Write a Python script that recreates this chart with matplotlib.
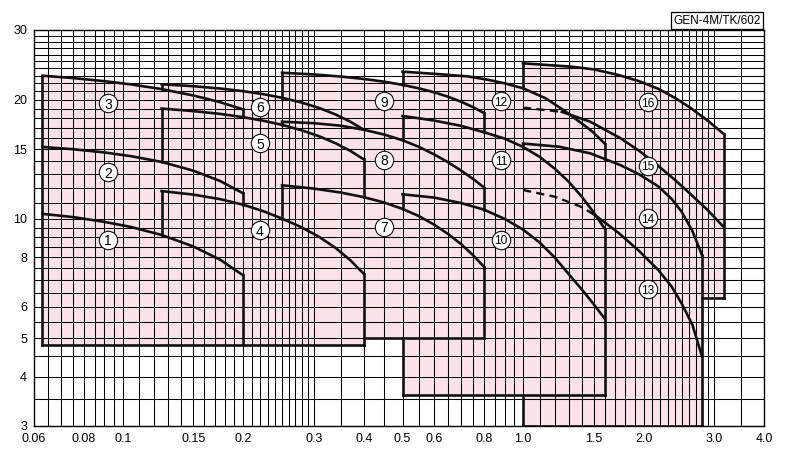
"""Pump selection chart: Q-H ranges of the GEN-4M series on log-log paper."""
import matplotlib
matplotlib.use("Agg")
import matplotlib.pyplot as plt
import numpy as np

plt.rcParams["font.family"] = ["Liberation Sans", "DejaVu Sans"]

X_TICKS = [0.06, 0.08, 0.1, 0.15, 0.2, 0.3, 0.4, 0.5, 0.6, 0.8, 1.0, 1.5, 2.0, 3.0, 4.0]
X_TICK_LABELS = ["0.06", "0.08", "0.1", "0.15", "0.2", "0.3", "0.4", "0.5", "0.6",
                 "0.8", "1.0", "1.5", "2.0", "3.0", "4.0"]
Y_TICKS = [3, 4, 5, 6, 8, 10, 15, 20, 30]

# chart paper rulings
X_GRID = np.concatenate([np.arange(0.065, 0.0999, 0.005), np.arange(0.1, 0.2999, 0.01),
                         np.arange(0.3, 0.999, 0.05), np.arange(1.0, 2.999, 0.1), [3.0, 3.5]])
Y_GRID = np.concatenate([np.arange(3.5, 9.99, 0.5), np.arange(10, 29.9, 1.0)])

# group A (pumps 1-3)
QA = [0.063, 0.075, 0.09, 0.105, 0.125, 0.15, 0.175, 0.2]
C1_Y = [10.3, 10.11, 9.83, 9.54, 9.11, 8.52, 7.89, 7.2]
C2_Y = [15.2, 15.0, 14.72, 14.4, 13.93, 13.24, 12.47, 11.6]
C3_Y = [23.0, 22.69, 22.28, 21.86, 21.28, 20.5, 19.72, 18.9]
# group B (pumps 4-6)
QB = [0.125, 0.15, 0.175, 0.2, 0.225, 0.25, 0.28, 0.31, 0.34, 0.37, 0.4]
C4_Y = [11.76, 11.52, 11.22, 10.86, 10.45, 10.02, 9.52, 9.0, 8.45, 7.87, 7.27]
C5_Y = [19.0, 18.72, 18.42, 18.07, 17.69, 17.28, 16.74, 16.16, 15.53, 14.86, 14.14]
C6_Y = [21.88, 21.64, 21.35, 21.02, 20.65, 20.23, 19.67, 19.05, 18.36, 17.61, 16.8]
# group C (pumps 7-9)
QC = [0.25, 0.3, 0.35, 0.4, 0.45, 0.5, 0.55, 0.6, 0.65, 0.7, 0.75, 0.8]
C7_Y = [12.16, 11.93, 11.66, 11.35, 11.0, 10.6, 10.16, 9.67, 9.16, 8.64, 8.1, 7.56]
C8_Y = [17.6, 17.45, 17.2, 16.8, 16.33, 15.8, 15.2, 14.55, 13.9, 13.25, 12.62, 12.0]
C9_Y = [23.4, 23.17, 22.89, 22.57, 22.21, 21.81, 21.36, 20.88, 20.35, 19.77, 19.16, 18.5]
# group D (pumps 10-12)
QD = [0.5, 0.6, 0.7, 0.8, 0.9, 1.0, 1.1, 1.2, 1.3, 1.4, 1.5, 1.6]
C10_Y = [11.54, 11.32, 10.97, 10.55, 10.0, 9.4, 8.72, 7.99, 7.26, 6.65, 6.1, 5.6]
C11_Y = [18.2, 17.72, 17.18, 16.55, 15.95, 15.2, 14.35, 13.4, 12.42, 11.4, 10.4, 9.45]
C12_X = [0.5, 0.62, 0.73, 0.82, 0.9, 1.0, 1.14, 1.27, 1.42, 1.5, 1.6]
C12_Y = [23.55, 23.2, 22.9, 22.45, 22.0, 21.38, 20.16, 18.75, 17.26, 16.52, 15.5]
# group E (pumps 13-16); the first part of curves 13 and 15 is dashed
C13_X = [1.0, 1.2, 1.4, 1.5, 1.6, 1.73, 1.95, 2.18, 2.35, 2.49, 2.65, 2.8]
C13_Y = [11.83, 11.38, 10.72, 10.28, 9.8, 9.23, 8.3, 7.42, 6.75, 6.12, 5.4, 4.5]
C13_DASH_END = 1.5
C14_X = [1.0, 1.23, 1.47, 1.75, 1.95, 2.18, 2.35, 2.49, 2.65, 2.8]
C14_Y = [15.5, 15.22, 14.65, 13.68, 12.96, 12.07, 11.24, 10.43, 9.32, 8.1]
C15_X = [1.0, 1.25, 1.47, 1.75, 1.95, 2.18, 2.4, 2.61, 2.9, 3.17]
C15_Y = [19.1, 18.64, 17.61, 16.0, 14.86, 13.6, 12.53, 11.6, 10.5, 9.55]
C15_DASH_END = 1.25
C16_X = [1.0, 1.32, 1.5, 1.73, 1.95, 2.18, 2.4, 2.61, 2.9, 3.17]
C16_Y = [24.72, 24.24, 23.87, 23.1, 22.28, 21.3, 20.2, 19.13, 17.68, 16.4]

# frame edges of each group
A_LEFT, A_RIGHT, A_BOTTOM = 0.063, 0.2, 4.8
B_LEFT, B_RIGHT = 0.125, 0.4
C_LEFT, C_RIGHT, C_BOTTOM = 0.25, 0.8, 5.0
D_LEFT, D_RIGHT, D_BOTTOM = 0.5, 1.6, 3.6
E_LEFT, E_RIGHT, E_BOTTOM = 1.0, 2.8, 3.0
E_WIDE_RIGHT, E_WIDE_BOTTOM = 3.17, 6.3

LABELS = [str(i) for i in range(1, 17)]
LABEL_X = [0.092, 0.092, 0.092, 0.22, 0.22, 0.22, 0.45, 0.45, 0.45,
           0.88, 0.88, 0.88, 2.05, 2.05, 2.05, 2.05]
LABEL_Y = [8.85, 13.1, 19.57, 9.37, 15.55, 19.22, 9.56, 14.12, 19.85,
           8.85, 14.08, 19.85, 6.65, 10.04, 13.63, 19.7]

PINK = "#fbe2e9"
INK = "#111111"


def at(cx, cy, x):
    # curve height at x, read along the log-log polyline
    return float(np.exp(np.interp(np.log(x), np.log(cx), np.log(cy))))


def split(cx, cy, xs):
    cut = at(cx, cy, xs)
    a = [(x, y) for x, y in zip(cx, cy) if x < xs] + [(xs, cut)]
    b = [(xs, cut)] + [(x, y) for x, y in zip(cx, cy) if x > xs]
    return list(zip(*a)), list(zip(*b))


fig = plt.figure(figsize=(8.0, 4.58), dpi=100)
ax = fig.add_axes([0.0425, 0.0699, 0.9125, 0.8646])
ax.set_xscale("log")
ax.set_yscale("log")
ax.set_xlim(0.06, 4.0)
ax.set_ylim(3, 30)

# pink areas
ax.fill([A_LEFT] + QA + [A_RIGHT], [A_BOTTOM] + C3_Y + [A_BOTTOM], color=PINK, lw=0, zorder=1)
ax.fill([B_LEFT] + QB + [B_RIGHT], [A_BOTTOM] + C6_Y + [A_BOTTOM], color=PINK, lw=0, zorder=1)
ax.fill([C_LEFT] + QC + [C_RIGHT], [C_BOTTOM] + C9_Y + [C_BOTTOM], color=PINK, lw=0, zorder=1)
ax.fill([D_LEFT] + C12_X + [D_RIGHT], [D_BOTTOM] + C12_Y + [D_BOTTOM], color=PINK, lw=0, zorder=1)
ax.fill([E_LEFT] + C16_X + [E_WIDE_RIGHT, E_RIGHT, E_RIGHT],
        [E_BOTTOM] + C16_Y + [E_WIDE_BOTTOM, E_WIDE_BOTTOM, E_BOTTOM], color=PINK, lw=0, zorder=1)

# paper grid
ax.vlines(X_GRID, 3, 30, color="black", lw=0.75, zorder=2)
ax.hlines(Y_GRID, 0.06, 4.0, color="black", lw=0.75, zorder=2)

# curves
solid = [(QA, C1_Y), (QA, C2_Y), (QA, C3_Y), (QB, C4_Y), (QB, C5_Y), (QB, C6_Y),
         (QC, C7_Y), (QC, C8_Y), (QC, C9_Y), (QD, C10_Y), (QD, C11_Y),
         (C12_X, C12_Y), (C14_X, C14_Y), (C16_X, C16_Y)]
for cx, cy in solid:
    ax.plot(cx, cy, color=INK, lw=1.9, zorder=3, solid_joinstyle="round")
for cx, cy, xs in [(C13_X, C13_Y, C13_DASH_END), (C15_X, C15_Y, C15_DASH_END)]:
    dash, rest = split(cx, cy, xs)
    ax.plot(dash[0], dash[1], color=INK, lw=1.7, ls=(0, (3.5, 2.2)), zorder=3)
    ax.plot(rest[0], rest[1], color=INK, lw=1.9, zorder=3, solid_joinstyle="round")

# frame edges: vertical runs (x, y0, y1) and horizontal runs (y, x0, x1)
vert = [
    (A_LEFT, A_BOTTOM, C3_Y[0]),
    (A_RIGHT, C3_Y[-1], at(QB, C5_Y, A_RIGHT)),
    (A_RIGHT, C2_Y[-1], at(QB, C4_Y, A_RIGHT)),
    (A_RIGHT, C1_Y[-1], A_BOTTOM),
    (B_LEFT, at(QA, C1_Y, B_LEFT), C4_Y[0]),
    (B_LEFT, at(QA, C2_Y, B_LEFT), C5_Y[0]),
    (B_LEFT, at(QA, C3_Y, B_LEFT), C6_Y[0]),
    (B_RIGHT, C5_Y[-1], at(QC, C7_Y, B_RIGHT)),
    (B_RIGHT, C4_Y[-1], A_BOTTOM),
    (C_LEFT, at(QB, C4_Y, C_LEFT), C7_Y[0]),
    (C_LEFT, at(QB, C5_Y, C_LEFT), C8_Y[0]),
    (C_LEFT, at(QB, C6_Y, C_LEFT), C9_Y[0]),
    (C_RIGHT, C9_Y[-1], at(QD, C11_Y, C_RIGHT)),
    (C_RIGHT, C8_Y[-1], at(QD, C10_Y, C_RIGHT)),
    (C_RIGHT, C7_Y[-1], C_BOTTOM),
    (D_LEFT, at(QC, C7_Y, D_LEFT), C10_Y[0]),
    (D_LEFT, at(QC, C8_Y, D_LEFT), C11_Y[0]),
    (D_LEFT, at(QC, C9_Y, D_LEFT), C12_Y[0]),
    (D_LEFT, C_BOTTOM, D_BOTTOM),
    (D_RIGHT, C12_Y[-1], at(C14_X, C14_Y, D_RIGHT)),
    (D_RIGHT, C11_Y[-1], D_BOTTOM),
    (E_LEFT, at(QD, C11_Y, E_LEFT), C14_Y[0]),
    (E_LEFT, at(C12_X, C12_Y, E_LEFT), C16_Y[0]),
    (E_LEFT, D_BOTTOM, E_BOTTOM),
    (E_WIDE_RIGHT, C16_Y[-1], E_WIDE_BOTTOM),
    (E_RIGHT, C14_Y[-1], E_BOTTOM),
]
horiz = [
    (A_BOTTOM, A_LEFT, B_RIGHT),
    (C_BOTTOM, B_RIGHT, C_RIGHT),
    (D_BOTTOM, D_LEFT, D_RIGHT),
    (E_BOTTOM, E_LEFT, E_RIGHT),
    (E_WIDE_BOTTOM, E_RIGHT, E_WIDE_RIGHT),
]
for x, y0, y1 in vert:
    ax.plot([x, x], [y0, y1], color=INK, lw=1.9, zorder=3, solid_capstyle="projecting")
for y, x0, x1 in horiz:
    ax.plot([x0, x1], [y, y], color=INK, lw=1.9, zorder=3, solid_capstyle="projecting")

# circled pump numbers
ax.scatter(LABEL_X, LABEL_Y, s=175, facecolor="white", edgecolor=INK, linewidth=0.8, zorder=4)
for lab, x, y in zip(LABELS, LABEL_X, LABEL_Y):
    ax.text(x, y, lab, ha="center", va="center_baseline", zorder=5,
            fontsize=10 if len(lab) == 1 else 8.6)

ax.set_xticks(X_TICKS)
ax.set_xticklabels(X_TICK_LABELS)
ax.set_yticks(Y_TICKS)
ax.set_yticklabels([str(v) for v in Y_TICKS])
ax.xaxis.set_minor_locator(matplotlib.ticker.NullLocator())
ax.yaxis.set_minor_locator(matplotlib.ticker.NullLocator())
ax.tick_params(axis="x", length=0, pad=5, labelsize=9)
ax.tick_params(axis="y", length=0, pad=5, labelsize=9)
for sp in ax.spines.values():
    sp.set_linewidth(1.0)
    sp.set_zorder(3)

ax.annotate("GEN-4M/TK/602", xy=(1, 1), xycoords="axes fraction", xytext=(-2.5, 2.5),
            textcoords="offset points", ha="right", va="bottom", fontsize=8.5,
            bbox=dict(boxstyle="square,pad=0.2", fc="white", ec="black", lw=0.9))

fig.savefig("out.png", dpi=100)
